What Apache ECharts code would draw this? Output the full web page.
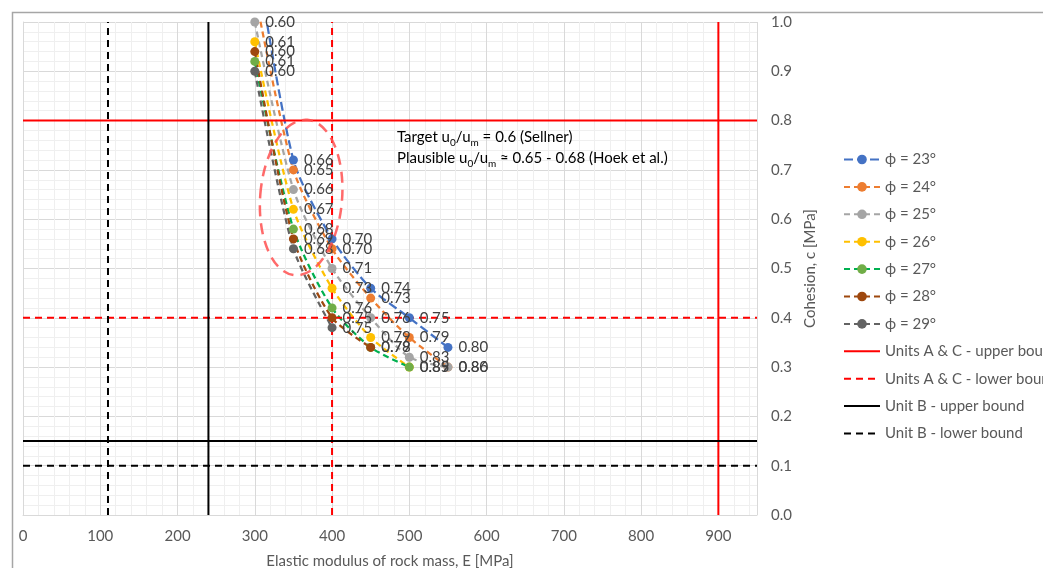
<!DOCTYPE html>
<html>
<head>
<meta charset="utf-8">
<script src="https://cdn.jsdelivr.net/npm/echarts@6/dist/echarts.min.js"></script>
<style>html,body{margin:0;padding:0;background:#fff}#c{width:1043px;height:568px}</style>
</head>
<body>
<div id="c"></div>
<script>
// ---- data ----
const E_VALUES = [300, 350, 400, 450, 500, 550];
const PHI_NAMES = ['ϕ = 23°', 'ϕ = 24°', 'ϕ = 25°', 'ϕ = 26°', 'ϕ = 27°', 'ϕ = 28°', 'ϕ = 29°'];
const C_PHI23 = [1.15, 0.72, 0.56, 0.46, 0.40, 0.34];
const C_PHI24 = [1.06, 0.70, 0.54, 0.44, 0.36, 0.30];
const C_PHI25 = [1.00, 0.66, 0.50, 0.40, 0.32, 0.30];
const C_PHI26 = [0.96, 0.62, 0.46, 0.36, 0.30];
const C_PHI27 = [0.92, 0.58, 0.42, 0.34, 0.30];
const C_PHI28 = [0.94, 0.56, 0.40, 0.34];
const C_PHI29 = [0.90, 0.54, 0.38];
const RATIO_PHI23 = ['0.60', '0.66', '0.70', '0.74', '0.75', '0.80'];
const RATIO_PHI24 = ['0.60', '0.65', '0.70', '0.73', '0.79', '0.80'];
const RATIO_PHI25 = ['0.60', '0.66', '0.71', '0.76', '0.83', '0.86'];
const RATIO_PHI26 = ['0.61', '0.67', '0.73', '0.79', '0.85'];
const RATIO_PHI27 = ['0.61', '0.68', '0.76', '0.79', '0.89'];
const RATIO_PHI28 = ['0.60', '0.69', '0.75', '0.78'];
const RATIO_PHI29 = ['0.60', '0.68', '0.75'];
const BOUND_NAMES = ['Units A & C - upper bound', 'Units A & C - lower bound', 'Unit B - upper bound', 'Unit B - lower bound'];
const BOUND_E = [900, 400, 240, 110];
const BOUND_C = [0.80, 0.40, 0.15, 0.10];
const X_TICKS = [0, 100, 200, 300, 400, 500, 600, 700, 800, 900];
const Y_TICKS = [0.0, 0.1, 0.2, 0.3, 0.4, 0.5, 0.6, 0.7, 0.8, 0.9, 1.0];
const ELLIPSE_CENTER = [360, 0.644];
const ELLIPSE_RADII = [53, 0.158];
const NOTE_ANCHOR = [484, 0.787];

// ---- styles ----
const FONT = 'Lato, "Liberation Sans", sans-serif';
const PHI_COLORS = ['#4472C4', '#ED7D31', '#A5A5A5', '#FFC000', '#70AD47', '#9E480E', '#636363'];
const PHI_LINE_COLORS = ['#4472C4', '#ED7D31', '#A5A5A5', '#FFC000', '#00B050', '#9E480E', '#636363'];
const PHI_DASH = [[9, 4], [6, 4], [6, 4], [6, 4], [6, 4], [6, 4], [6, 4]];
const BOUND_COLORS = ['#FF0000', '#FF0000', '#000000', '#000000'];
const BOUND_TYPES = ['solid', [7, 5], 'solid', [7, 5]];

const cs = [C_PHI23, C_PHI24, C_PHI25, C_PHI26, C_PHI27, C_PHI28, C_PHI29];
const rs = [RATIO_PHI23, RATIO_PHI24, RATIO_PHI25, RATIO_PHI26, RATIO_PHI27, RATIO_PHI28, RATIO_PHI29];

const series = [];
cs.forEach((arr, i) => {
  series.push({
    name: PHI_NAMES[i],
    type: 'line',
    smooth: 0.25,
    clip: true,
    symbol: 'circle',
    symbolSize: 9,
    data: arr.map((c, j) => [E_VALUES[j], c, rs[i][j]]),
    itemStyle: { color: PHI_COLORS[i] },
    lineStyle: { color: PHI_LINE_COLORS[i], width: 2.25, type: PHI_DASH[i] },
    label: {
      show: true, position: 'right', distance: 6,
      formatter: p => p.value[2],
      color: '#404040', fontSize: 15, fontFamily: FONT
    },
    emphasis: { disabled: true },
    animation: false
  });
});
BOUND_NAMES.forEach((n, i) => {
  series.push({
    name: n,
    type: 'line',
    symbol: 'none',
    showSymbol: false,
    connectNulls: false,
    data: [[BOUND_E[i], 0], [BOUND_E[i], 1], [0, '-'], [0, BOUND_C[i]], [950, BOUND_C[i]]],
    lineStyle: { color: BOUND_COLORS[i], width: 2, type: BOUND_TYPES[i] },
    itemStyle: { color: BOUND_COLORS[i] },
    emphasis: { disabled: true },
    animation: false
  });
});

const legendData = PHI_NAMES.map(n => ({ name: n }))
  .concat(BOUND_NAMES.map(n => ({ name: n, itemStyle: { opacity: 0, color: 'rgba(0,0,0,0)', borderWidth: 0 } })));

const chart = echarts.init(document.getElementById('c'), null, { renderer: 'canvas' });
chart.setOption({
  animation: false,
  textStyle: { fontFamily: FONT },
  grid: { left: 23, right: 286, top: 22, bottom: 53, containLabel: false, outerBoundsMode: 'none' },
  xAxis: {
    type: 'value', min: X_TICKS[0], max: 950, interval: 100,
    name: 'Elastic modulus of rock mass, E [MPa]', nameLocation: 'middle', nameGap: 39,
    nameTextStyle: { color: '#595959', fontSize: 15, fontFamily: FONT },
    axisLine: { show: true, lineStyle: { color: '#d9d9d9' } },
    axisTick: { show: false },
    axisLabel: { color: '#595959', fontSize: 15, fontFamily: FONT, margin: 14, showMaxLabel: false,
      formatter: v => X_TICKS.indexOf(v) >= 0 ? String(v) : '' },
    splitLine: { show: true, lineStyle: { color: '#d9d9d9', width: 1 } },
    minorTick: { show: false, splitNumber: 5 },
    minorSplitLine: { show: true, lineStyle: { color: '#efefef', width: 1 } }
  },
  yAxis: {
    type: 'value', position: 'right', min: Y_TICKS[0], max: Y_TICKS[Y_TICKS.length - 1], interval: 0.1,
    name: 'Cohesion, c [MPa]', nameLocation: 'middle', nameGap: 40, nameRotate: 90,
    nameTextStyle: { color: '#595959', fontSize: 15, fontFamily: FONT },
    axisLine: { show: true, lineStyle: { color: '#d9d9d9' } },
    axisTick: { show: false },
    axisLabel: { color: '#595959', fontSize: 15, fontFamily: FONT, margin: 14, formatter: v => v.toFixed(1) },
    splitLine: { show: true, lineStyle: { color: '#d9d9d9', width: 1 } },
    minorTick: { show: false, splitNumber: 5 },
    minorSplitLine: { show: true, lineStyle: { color: '#efefef', width: 1 } }
  },
  legend: {
    orient: 'vertical', left: 838, top: 147,
    itemWidth: 36, itemHeight: 12, itemGap: 12.4,
    textStyle: { color: '#595959', fontSize: 15, fontFamily: FONT },
    data: legendData,
    selectedMode: false
  },
  series: series
});

const ctr = chart.convertToPixel({ gridIndex: 0 }, ELLIPSE_CENTER);
const ex = chart.convertToPixel({ gridIndex: 0 }, [ELLIPSE_CENTER[0] + ELLIPSE_RADII[0], ELLIPSE_CENTER[1] + ELLIPSE_RADII[1]]);
const note = chart.convertToPixel({ gridIndex: 0 }, NOTE_ANCHOR);
chart.setOption({
  graphic: [
    { type: 'rect', left: 10, top: 10, silent: true,
      shape: { x: 0, y: 0, width: 1100, height: 600 },
      style: { fill: 'none', stroke: '#a6a6a6', lineWidth: 1.5 }, z: 100 },
    { type: 'ellipse', x: ctr[0], y: ctr[1], rotation: -0.08, silent: true,
      shape: { cx: 0, cy: 0, rx: Math.abs(ex[0] - ctr[0]), ry: Math.abs(ex[1] - ctr[1]) },
      style: { fill: 'none', stroke: 'rgba(255,80,80,0.85)', lineWidth: 2.5, lineDash: [11, 7] }, z: 50 },
    { type: 'text', x: note[0], y: note[1], silent: true, z: 60,
      style: {
        text: '{t|Target u}{s|0}{t|/u}{s|m}{t| = 0.6 (Sellner)}\n{t|Plausible u}{s|0}{t|/u}{s|m}{t| ≈ 0.65 - 0.68 (Hoek et al.)}',
        fill: '#000', fontFamily: FONT, fontSize: 15,
        rich: {
          t: { fontSize: 15, lineHeight: 21, fontFamily: FONT, fill: '#000' },
          s: { fontSize: 10, fontFamily: FONT, verticalAlign: 'bottom', fill: '#000' }
        }
      } }
  ]
});
</script>
</body>
</html>
